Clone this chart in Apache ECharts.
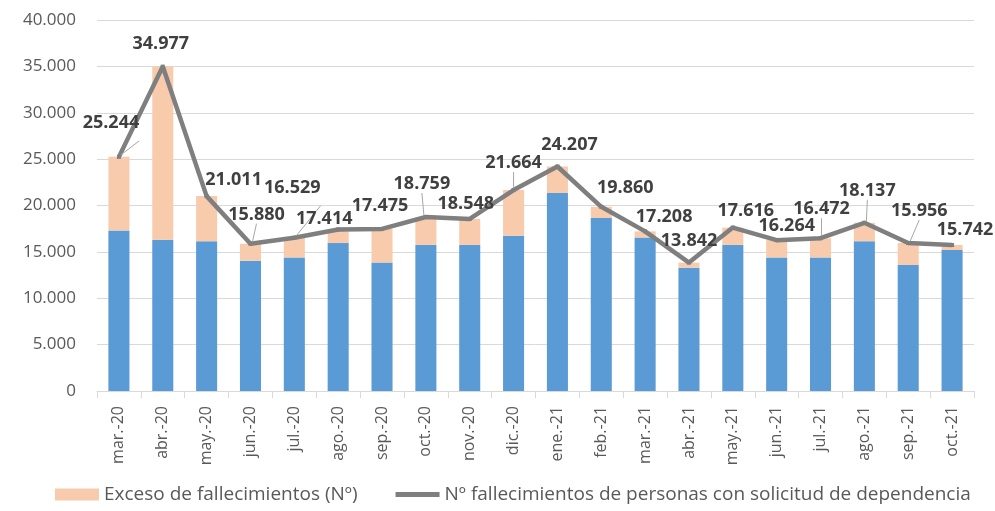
<!DOCTYPE html>
<html>
<head>
<meta charset="utf-8">
<script src="https://cdn.jsdelivr.net/npm/echarts@6/dist/echarts.min.js"></script>
<style>
  html, body { margin: 0; padding: 0; background: #fff; }
  #chart { width: 995px; height: 511px; }
</style>
</head>
<body>
<div id="chart"></div>
<script>
// meses
const months = ['mar.-20', 'abr.-20', 'may.-20', 'jun.-20', 'jul.-20', 'ago.-20', 'sep.-20', 'oct.-20', 'nov.-20', 'dic.-20',
  'ene.-21', 'feb.-21', 'mar.-21', 'abr.-21', 'may.-21', 'jun.-21', 'jul.-21', 'ago.-21', 'sep.-21', 'oct.-21']

// fallecimientos de personas con solicitud de dependencia (linea)
const totalDeaths = [25244, 34977, 21011, 15880, 16529, 17414, 17475, 18759, 18548, 21664,
  24207, 19860, 17208, 13842, 17616, 16264, 16472, 18137, 15956, 15742]

// parte azul de la barra
const baseDeaths = [17300, 16300, 16150, 14050, 14400, 15950, 13850, 15750, 15750, 16750,
  21350, 18650, 16550, 13300, 15750, 14400, 14400, 16150, 13600, 15200]

// exceso = total - base
const excessDeaths = totalDeaths.map((v, i) => v - baseDeaths[i])

const yTicks = { min: 0, max: 40000, step: 5000 }

// desplazamiento de cada etiqueta respecto al punto
const labelShift = [[-8, -34], [-2, -23], [27, -16], [6, -29], [-2, -50], [-14, -11], [-2, -23], [-4, -33], [-4, -15], [0, -27],
  [12, -22], [24, -19], [19, -15], [0, -22], [13, -17], [10, -14], [1, -29], [3, -32], [11, -32], [13, -15]]
// etiquetas con linea guia
const leader = [1, 0, 0, 1, 1, 0, 0, 1, 0, 1, 0, 0, 0, 0, 0, 0, 1, 1, 1, 0]

const fmt = v => String(v).replace(/\B(?=(\d{3})+(?!\d))/g, '.')

const chart = echarts.init(document.getElementById('chart'))

const lineName = 'Nº fallecimientos de personas con solicitud de dependencia'

const option = {
  animation: false,
  textStyle: { fontFamily: 'Open Sans' },
  legend: {
    data: [
      { name: 'Exceso de fallecimientos (Nº)', icon: 'rect' },
      { name: lineName, icon: 'path://M0,0 L40,0 L40,4.5 L0,4.5 Z' }
    ],
    left: 50,
    bottom: 2,
    itemWidth: 44,
    itemHeight: 12,
    itemGap: 38,
    textStyle: { color: '#595959', fontSize: 19, fontFamily: 'Open Sans' }
  },
  grid: {
    left: 97,
    right: 21,
    top: 20,
    bottom: 120
  },
  xAxis: {
    type: 'category',
    data: months,
    axisLine: { lineStyle: { color: '#d9d9d9', width: 1 } },
    axisTick: { show: true, length: 7, lineStyle: { color: '#d9d9d9' } },
    axisLabel: { rotate: 90, margin: 15, color: '#595959', fontSize: 16, fontFamily: 'Open Sans' }
  },
  yAxis: {
    type: 'value',
    min: yTicks.min,
    max: yTicks.max,
    interval: yTicks.step,
    axisLine: { show: false },
    axisTick: { show: false },
    splitLine: { lineStyle: { color: '#d9d9d9', width: 1 } },
    axisLabel: { color: '#595959', fontSize: 17, margin: 21, formatter: fmt, fontFamily: 'Open Sans' }
  },
  series: [
    {
      name: 'Base',
      type: 'bar',
      stack: 'total',
      barWidth: '48%',
      itemStyle: { color: '#5b9bd5' },
      data: baseDeaths
    },
    {
      name: 'Exceso de fallecimientos (Nº)',
      type: 'bar',
      stack: 'total',
      barWidth: '48%',
      itemStyle: { color: '#f8cbad' },
      data: excessDeaths
    },
    {
      name: lineName,
      type: 'line',
      z: 5,
      symbol: 'rect',
      symbolSize: 4,
      itemStyle: { color: '#7f7f7f' },
      lineStyle: { color: '#7f7f7f', width: 4.5 },
      data: totalDeaths.map((v, i) => ({
        value: v,
        labelLine: { show: !!leader[i], lineStyle: { color: '#a6a6a6', width: 1 } },
        label: {
          show: true,
          position: 'inside',
          offset: labelShift[i],
          formatter: p => fmt(p.value),
          color: '#404040',
          fontSize: 18,
          fontWeight: 'bold',
          fontFamily: 'Open Sans'
        }
      }))
    }
  ]
}

option && chart.setOption(option)
</script>
</body>
</html>
